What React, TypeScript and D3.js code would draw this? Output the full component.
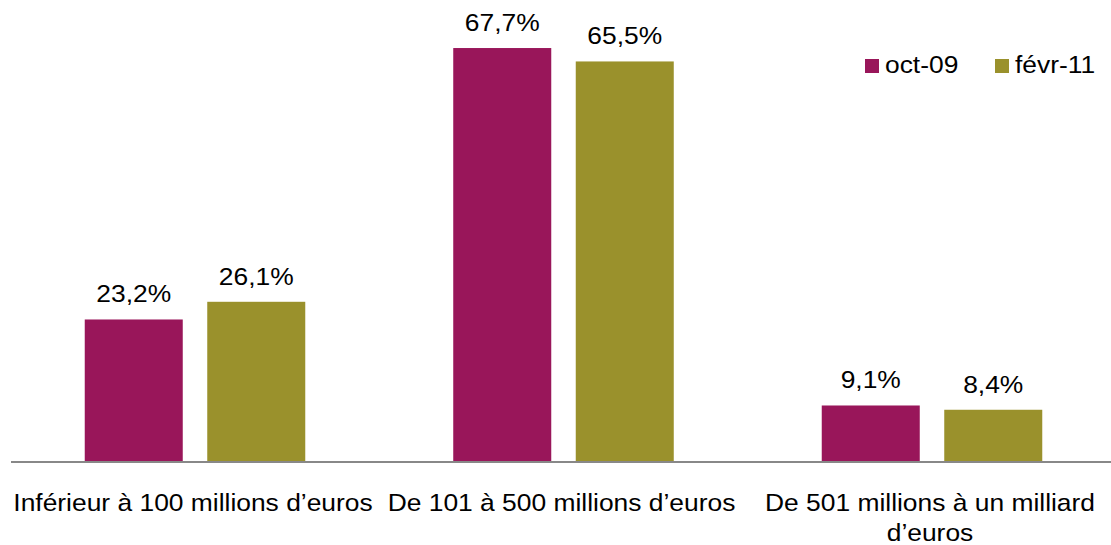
import React from "react";
import * as d3 from "d3";

const categories = [
  ["Inférieur à 100 millions d’euros"],
  ["De 101 à 500 millions d’euros"],
  ["De 501 millions à un milliard", "d’euros"],
];
const seriesNames = ["oct-09", "févr-11"];
const oct09 = [23.2, 67.7, 9.1];
const fevr11 = [26.1, 65.5, 8.4];
const colors = ["#99165A", "#9A912C"];

const W = 1111;
const H = 545;
const FONT = "'Liberation Sans', Arial, sans-serif";
const SX = 1.1; // the source text is a little wider than Arial

const fmt = (v: number) => v.toFixed(1).replace(".", ",") + "%";

export default function App() {
  const keys = categories.map((c) => c.join(" "));
  const values = [oct09, fevr11];

  const x0 = d3.scaleBand<string>().domain(keys).range([10.75, 1116.25]).padding(0);
  const x1 = d3
    .scaleBand<string>()
    .domain(seriesNames)
    .range([0, x0.bandwidth()])
    .paddingInner(0.2)
    .paddingOuter(0.604);
  const y = d3.scaleLinear().domain([0, 70]).range([461, 34]);

  const label = (tx: number, ty: number, s: string, anchor = "middle", key?: string) => (
    <text
      key={key}
      transform={`translate(${tx},${ty}) scale(${SX},1)`}
      textAnchor={anchor}
      fontFamily={FONT}
      fontSize={24}
      fill="#000"
    >
      {s}
    </text>
  );

  return (
    <svg
      width={W}
      height={H}
      style={{ position: "absolute", left: 0, top: 0, background: "#fff" }}
    >
      {keys.map((k, i) => (
        <g key={k} transform={`translate(${x0(k)},0)`}>
          {seriesNames.map((s, j) => {
            const v = values[j][i];
            const bx = x1(s)!;
            return (
              <g key={s}>
                <rect
                  x={bx}
                  y={y(v)}
                  width={x1.bandwidth()}
                  height={y(0) - y(v)}
                  fill={colors[j]}
                />
                {label(bx + x1.bandwidth() / 2, y(v) - 17, fmt(v))}
              </g>
            );
          })}
          {categories[i].map((line, li) =>
            label(x0.bandwidth() / 2 - 2, 511 + li * 30, line, "middle", line)
          )}
        </g>
      ))}
      <line x1={11} x2={W} y1={462} y2={462} stroke="#888" strokeWidth={2} />
      {seriesNames.map((s, j) => {
        const lx = [865, 995][j];
        return (
          <g key={s}>
            <rect x={lx} y={59} width={14} height={14} fill={colors[j]} />
            {label(lx + 20, 73, s, "start")}
          </g>
        );
      })}
    </svg>
  );
}
